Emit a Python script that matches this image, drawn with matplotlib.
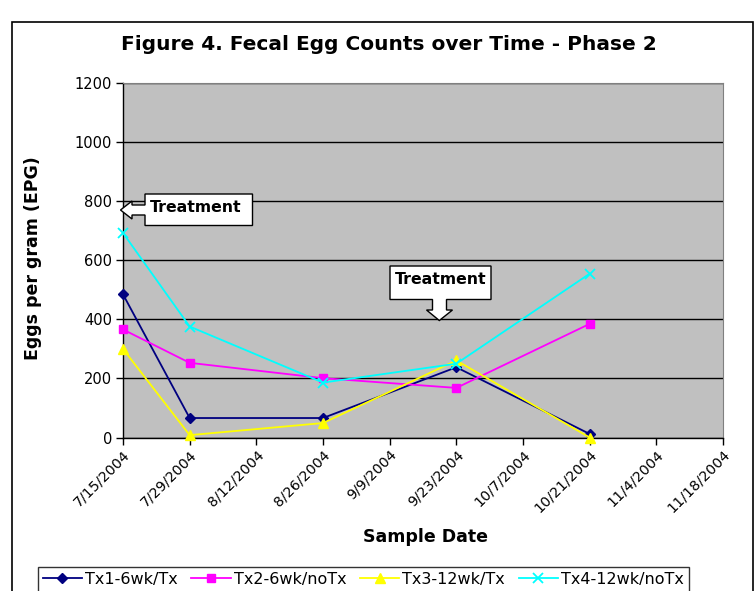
import matplotlib
matplotlib.use("Agg")
import matplotlib.pyplot as plt
import matplotlib.dates as mdates
from matplotlib.patches import Polygon, Rectangle
import datetime as dt

# ---- data ----
dates = ["2004-07-15", "2004-07-29", "2004-08-26", "2004-09-23", "2004-10-21"]
tx1 = [485, 66, 66, 238, 12]
tx2 = [366, 253, 201, 168, 385]
tx3 = [300, 8, 49, 261, 0]
tx4 = [693, 376, 186, 250, 555]
series_names = ["Tx1-6wk/Tx", "Tx2-6wk/noTx", "Tx3-12wk/Tx", "Tx4-12wk/noTx"]
tick_dates = ["2004-07-15", "2004-07-29", "2004-08-12", "2004-08-26", "2004-09-09",
              "2004-09-23", "2004-10-07", "2004-10-21", "2004-11-04", "2004-11-18"]
tick_labels = ["7/15/2004", "7/29/2004", "8/12/2004", "8/26/2004", "9/9/2004",
               "9/23/2004", "10/7/2004", "10/21/2004", "11/4/2004", "11/18/2004"]
y_ticks = [0, 200, 400, 600, 800, 1000, 1200]

W, H = 756, 591
fig = plt.figure(figsize=(W / 100, H / 100), dpi=100)
plt.rcParams['font.family'] = ['DejaVu Sans']

def fx(px):
    return px / W

def fy(py):
    return 1 - py / H

# outer chart border
fig.patches.append(Rectangle((fx(12), fy(600)), fx(753) - fx(12), fy(22) - fy(600),
                             transform=fig.transFigure, fill=False, edgecolor='black',
                             linewidth=1.2, zorder=0))

ax = fig.add_axes([fx(123), fy(437.5), fx(723) - fx(123), fy(83.3) - fy(437.5)])
ax.set_facecolor('#C0C0C0')

xd = [mdates.date2num(dt.datetime.strptime(d, "%Y-%m-%d")) for d in dates]
xt = [mdates.date2num(dt.datetime.strptime(d, "%Y-%m-%d")) for d in tick_dates]

styles = [
    dict(color='#000080', marker='D', markersize=5.5),
    dict(color='#FF00FF', marker='s', markersize=6),
    dict(color='#FFFF00', marker='^', markersize=7),
    dict(color='#00FFFF', marker='x', markersize=7, markeredgewidth=1.3),
]
handles = []
for vals, name, st in zip([tx1, tx2, tx3, tx4], series_names, styles):
    h, = ax.plot(xd, vals, linewidth=1.3, label=name, clip_on=False, zorder=3, **st)
    handles.append(h)

ax.set_xlim(xt[0], xt[-1])
ax.set_ylim(0, 1200)
ax.set_yticks(y_ticks)
ax.set_yticklabels([str(v) for v in y_ticks], fontsize=10.5)
ax.set_xticks(xt)
ax.set_xticklabels(tick_labels, rotation=45, ha='right', rotation_mode='anchor', fontsize=10.3)
ax.tick_params(axis='both', direction='out', length=5, width=1, color='black', pad=3)
ax.tick_params(axis='x', pad=2)
ax.grid(axis='y', color='black', linewidth=1)
ax.set_axisbelow(True)
for s in ['top', 'right']:
    ax.spines[s].set_color('#808080')
for s in ['left', 'bottom']:
    ax.spines[s].set_color('black')
    ax.spines[s].set_linewidth(1)

# title and axis labels
fig.text(fx(389), fy(45), "Figure 4. Fecal Egg Counts over Time - Phase 2",
         ha='center', va='center', fontsize=14.5, fontweight='bold')
fig.text(fx(33), fy(258), "Eggs per gram (EPG)", rotation=90, ha='center', va='center',
         fontsize=12.5, fontweight='bold')
fig.text(fx(425), fy(537), "Sample Date", ha='center', va='center',
         fontsize=12.5, fontweight='bold')

# callouts
def callout(pts):
    fig.patches.append(Polygon([(fx(a), fy(b)) for a, b in pts], closed=True,
                               transform=fig.transFigure, facecolor='white',
                               edgecolor='black', linewidth=1, zorder=5))

callout([(145, 194), (252.5, 194), (252.5, 225.5), (145, 225.5), (145, 215),
         (132, 215), (132, 219), (120.5, 210), (132, 201), (132, 205), (145, 205)])
fig.text(fx(196), fy(208), "Treatment", ha='center', va='center', fontsize=11.3,
         fontweight='bold', zorder=6)

callout([(390, 266), (491, 266), (491, 299.5), (446.5, 299.5), (446.5, 310),
         (452.5, 310), (439.3, 320.5), (426.5, 310), (432.5, 310), (432.5, 299.5),
         (390, 299.5)])
fig.text(fx(440.5), fy(280), "Treatment", ha='center', va='center', fontsize=11.3,
         fontweight='bold', zorder=6)

leg = fig.legend(handles=handles, loc='upper left', bbox_to_anchor=(fx(38), fy(567)),
                 ncol=4, frameon=True, fancybox=False, edgecolor='black', fontsize=11.5,
                 handlelength=2.45, handletextpad=0.2, columnspacing=0.85,
                 borderpad=0.3, borderaxespad=0)
leg.get_frame().set_linewidth(1)

fig.savefig("out.png", dpi=100)
